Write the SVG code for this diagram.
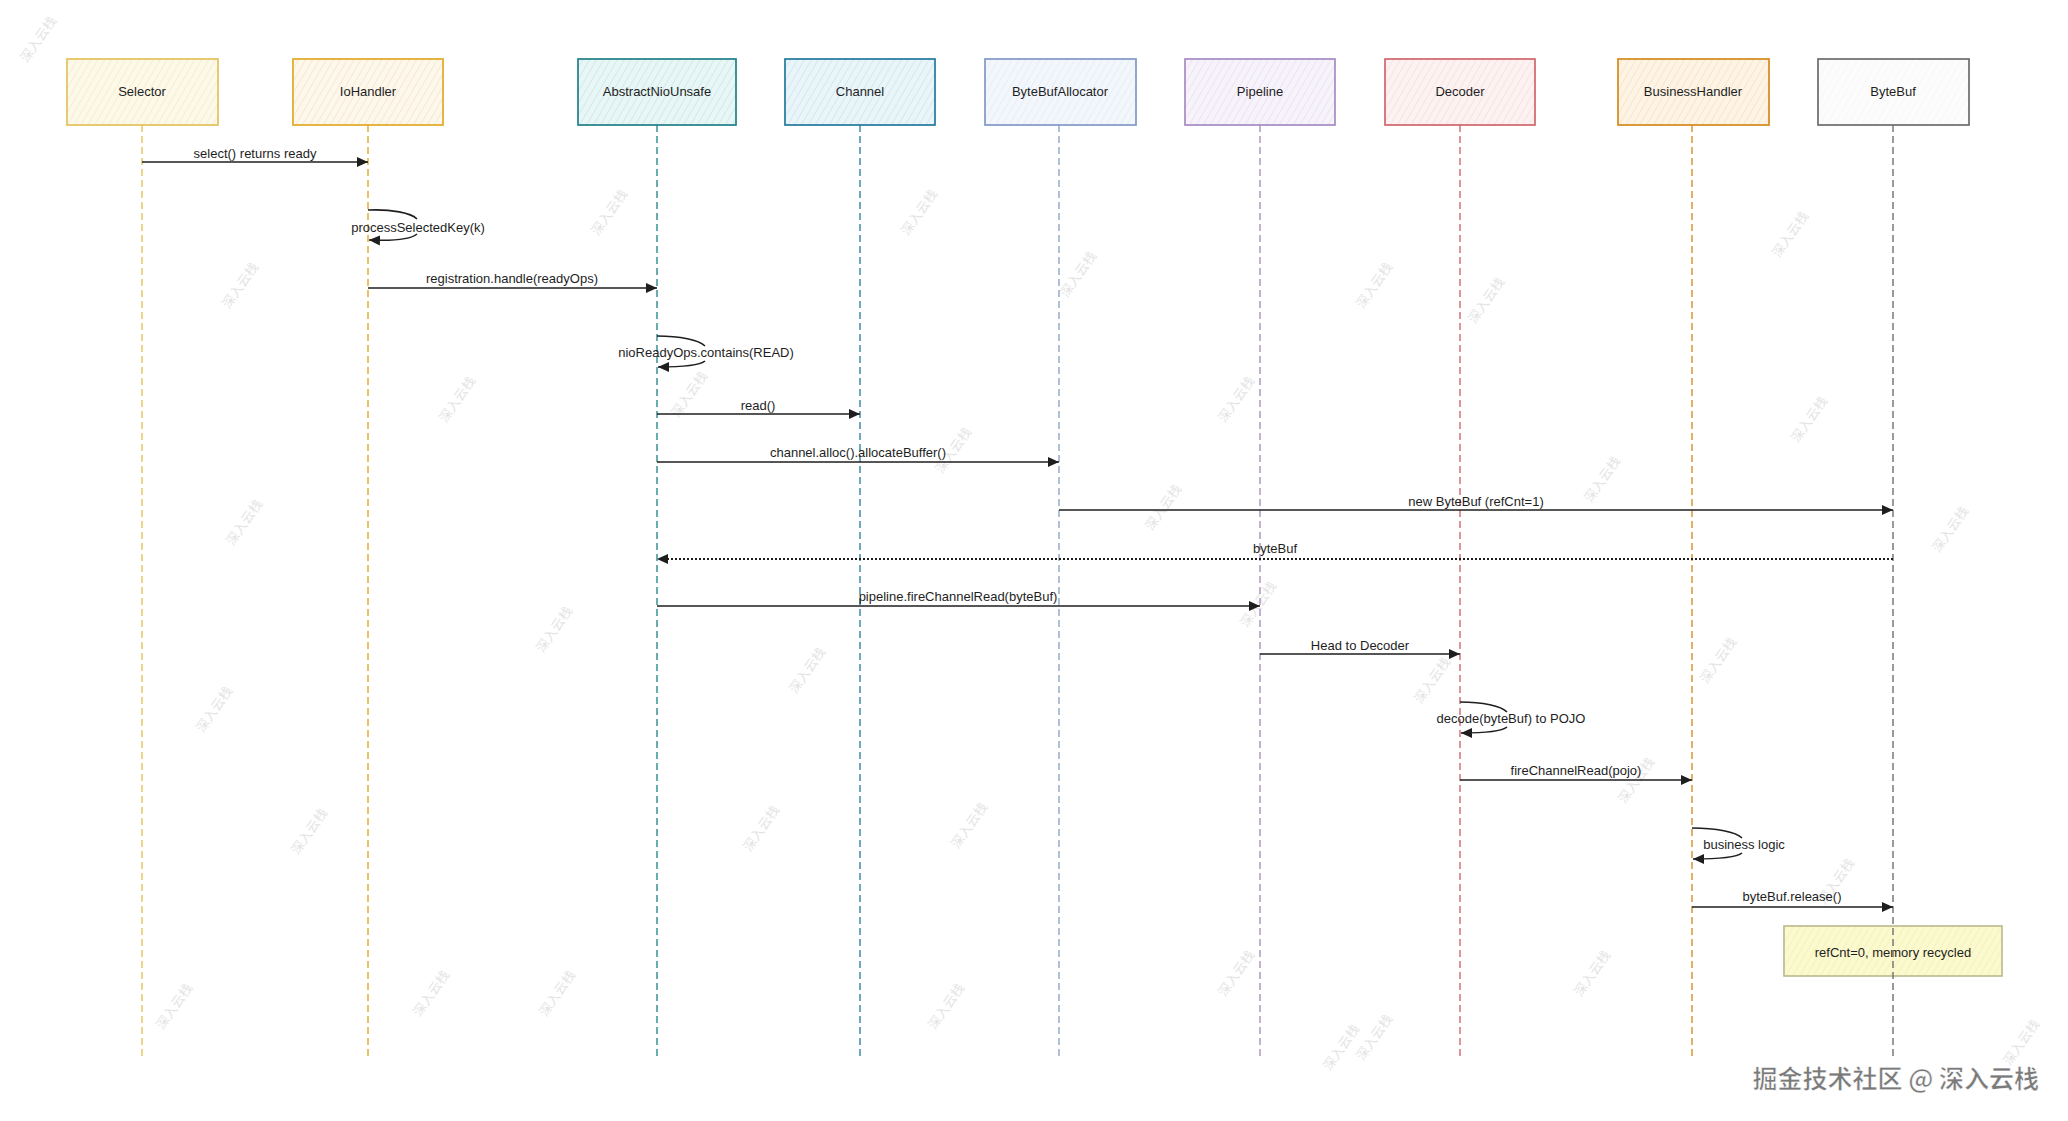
<svg xmlns="http://www.w3.org/2000/svg" width="2068" height="1121" viewBox="0 0 2068 1121">
<style>
.lbl{font-family:"Liberation Sans","DejaVu Sans",sans-serif;font-size:13px;fill:#1e1e1e;text-anchor:middle}
.box{stroke-width:1.7}
.life{fill:none;stroke-width:1.4;stroke-dasharray:7 4}
.msg{fill:none;stroke:#1e1e1e;stroke-width:1.6}
.ret{fill:none;stroke:#1e1e1e;stroke-width:1.8;stroke-dasharray:2 2}
.wm{font-family:"Noto Sans CJK SC",sans-serif;font-size:13px;fill:#e4e4e4}
.brand{font-family:"Noto Sans CJK SC",sans-serif;font-size:25px;font-weight:bold;fill:#7a7a7a;stroke:#ffffff;stroke-width:0.6;text-anchor:end}
</style>
<defs>
<marker id="ah" viewBox="0 0 10 10" refX="10" refY="5" markerWidth="11" markerHeight="11" markerUnits="userSpaceOnUse" orient="auto"><path d="M0,0.5 L10,5 L0,9.5 Z" fill="#1e1e1e"/></marker>
<pattern id="p-sel" width="6" height="6" patternUnits="userSpaceOnUse" patternTransform="rotate(30)"><rect width="6" height="6" fill="#fdf9ea"/><line x1="0" y1="0" x2="0" y2="6" stroke="#f1e3b4" stroke-width="1"/></pattern>
<pattern id="p-io" width="6" height="6" patternUnits="userSpaceOnUse" patternTransform="rotate(30)"><rect width="6" height="6" fill="#fdf7ec"/><line x1="0" y1="0" x2="0" y2="6" stroke="#f0dcb8" stroke-width="1"/></pattern>
<pattern id="p-ans" width="6" height="6" patternUnits="userSpaceOnUse" patternTransform="rotate(30)"><rect width="6" height="6" fill="#e9f6f6"/><line x1="0" y1="0" x2="0" y2="6" stroke="#b8dfe0" stroke-width="1"/></pattern>
<pattern id="p-ch" width="6" height="6" patternUnits="userSpaceOnUse" patternTransform="rotate(30)"><rect width="6" height="6" fill="#eaf5f9"/><line x1="0" y1="0" x2="0" y2="6" stroke="#bcdce8" stroke-width="1"/></pattern>
<pattern id="p-alloc" width="6" height="6" patternUnits="userSpaceOnUse" patternTransform="rotate(30)"><rect width="6" height="6" fill="#f3f7fc"/><line x1="0" y1="0" x2="0" y2="6" stroke="#dbe6f3" stroke-width="1"/></pattern>
<pattern id="p-pipe" width="6" height="6" patternUnits="userSpaceOnUse" patternTransform="rotate(30)"><rect width="6" height="6" fill="#f7f3fa"/><line x1="0" y1="0" x2="0" y2="6" stroke="#e2d6ec" stroke-width="1"/></pattern>
<pattern id="p-dec" width="6" height="6" patternUnits="userSpaceOnUse" patternTransform="rotate(30)"><rect width="6" height="6" fill="#fdf2f2"/><line x1="0" y1="0" x2="0" y2="6" stroke="#f3d3d3" stroke-width="1"/></pattern>
<pattern id="p-bh" width="6" height="6" patternUnits="userSpaceOnUse" patternTransform="rotate(30)"><rect width="6" height="6" fill="#fdf4e6"/><line x1="0" y1="0" x2="0" y2="6" stroke="#f3d8ad" stroke-width="1"/></pattern>
<pattern id="p-bb" width="6" height="6" patternUnits="userSpaceOnUse" patternTransform="rotate(30)"><rect width="6" height="6" fill="#fcfcfc"/><line x1="0" y1="0" x2="0" y2="6" stroke="#f2f2f2" stroke-width="1"/></pattern>
<pattern id="p-note" width="6" height="6" patternUnits="userSpaceOnUse" patternTransform="rotate(30)"><rect width="6" height="6" fill="#fbf9cf"/><line x1="0" y1="0" x2="0" y2="6" stroke="#f1ec9c" stroke-width="1"/></pattern>
</defs>
<rect width="2068" height="1121" fill="#ffffff"/>

<g id="watermarks">
<text class="wm" transform="translate(42,42) rotate(-55)" text-anchor="middle">深入云栈</text>
<text class="wm" transform="translate(244,288) rotate(-55)" text-anchor="middle">深入云栈</text>
<text class="wm" transform="translate(248,525) rotate(-55)" text-anchor="middle">深入云栈</text>
<text class="wm" transform="translate(218,712) rotate(-55)" text-anchor="middle">深入云栈</text>
<text class="wm" transform="translate(178,1009) rotate(-55)" text-anchor="middle">深入云栈</text>
<text class="wm" transform="translate(313,834) rotate(-55)" text-anchor="middle">深入云栈</text>
<text class="wm" transform="translate(435,996) rotate(-55)" text-anchor="middle">深入云栈</text>
<text class="wm" transform="translate(461,402) rotate(-55)" text-anchor="middle">深入云栈</text>
<text class="wm" transform="translate(558,632) rotate(-55)" text-anchor="middle">深入云栈</text>
<text class="wm" transform="translate(561,996) rotate(-55)" text-anchor="middle">深入云栈</text>
<text class="wm" transform="translate(613,215) rotate(-55)" text-anchor="middle">深入云栈</text>
<text class="wm" transform="translate(693,397) rotate(-55)" text-anchor="middle">深入云栈</text>
<text class="wm" transform="translate(765,831) rotate(-55)" text-anchor="middle">深入云栈</text>
<text class="wm" transform="translate(811,673) rotate(-55)" text-anchor="middle">深入云栈</text>
<text class="wm" transform="translate(923,215) rotate(-55)" text-anchor="middle">深入云栈</text>
<text class="wm" transform="translate(957,453) rotate(-55)" text-anchor="middle">深入云栈</text>
<text class="wm" transform="translate(950,1009) rotate(-55)" text-anchor="middle">深入云栈</text>
<text class="wm" transform="translate(973,828) rotate(-55)" text-anchor="middle">深入云栈</text>
<text class="wm" transform="translate(1082,277) rotate(-55)" text-anchor="middle">深入云栈</text>
<text class="wm" transform="translate(1167,510) rotate(-55)" text-anchor="middle">深入云栈</text>
<text class="wm" transform="translate(1240,402) rotate(-55)" text-anchor="middle">深入云栈</text>
<text class="wm" transform="translate(1262,607) rotate(-55)" text-anchor="middle">深入云栈</text>
<text class="wm" transform="translate(1240,976) rotate(-55)" text-anchor="middle">深入云栈</text>
<text class="wm" transform="translate(1378,288) rotate(-55)" text-anchor="middle">深入云栈</text>
<text class="wm" transform="translate(1436,683) rotate(-55)" text-anchor="middle">深入云栈</text>
<text class="wm" transform="translate(1490,303) rotate(-55)" text-anchor="middle">深入云栈</text>
<text class="wm" transform="translate(1606,482) rotate(-55)" text-anchor="middle">深入云栈</text>
<text class="wm" transform="translate(1596,976) rotate(-55)" text-anchor="middle">深入云栈</text>
<text class="wm" transform="translate(1640,783) rotate(-55)" text-anchor="middle">深入云栈</text>
<text class="wm" transform="translate(1722,663) rotate(-55)" text-anchor="middle">深入云栈</text>
<text class="wm" transform="translate(1794,237) rotate(-55)" text-anchor="middle">深入云栈</text>
<text class="wm" transform="translate(1813,422) rotate(-55)" text-anchor="middle">深入云栈</text>
<text class="wm" transform="translate(1840,884) rotate(-55)" text-anchor="middle">深入云栈</text>
<text class="wm" transform="translate(1954,532) rotate(-55)" text-anchor="middle">深入云栈</text>
<text class="wm" transform="translate(1345,1050) rotate(-55)" text-anchor="middle">深入云栈</text>
<text class="wm" transform="translate(1378,1040) rotate(-55)" text-anchor="middle">深入云栈</text>
<text class="wm" transform="translate(2025,1045) rotate(-55)" text-anchor="middle">深入云栈</text>
</g>

<g id="note-refcnt">
<rect x="1784" y="926" width="218" height="50" fill="url(#p-note)" stroke="#b9b98a" stroke-width="1.6"/>
<text class="lbl" x="1893" y="957">refCnt=0, memory recycled</text>
</g>

<g id="lifelines">
<line class="life" x1="142" y1="125" x2="142" y2="1060" stroke="#e3c25a"/>
<line class="life" x1="368" y1="125" x2="368" y2="1060" stroke="#e2a822"/>
<line class="life" x1="657" y1="125" x2="657" y2="1060" stroke="#2a8a8e"/>
<line class="life" x1="860" y1="125" x2="860" y2="1060" stroke="#2f86a8"/>
<line class="life" x1="1059" y1="125" x2="1059" y2="1060" stroke="#8fa6cc"/>
<line class="life" x1="1260" y1="125" x2="1260" y2="1060" stroke="#a992bf"/>
<line class="life" x1="1460" y1="125" x2="1460" y2="1060" stroke="#cf6a6e"/>
<line class="life" x1="1692" y1="125" x2="1692" y2="1060" stroke="#d4902a"/>
<line class="life" x1="1893" y1="125" x2="1893" y2="1060" stroke="#707070"/>
</g>

<g id="node-selector">
<rect class="box" x="67" y="59" width="151" height="66" fill="url(#p-sel)" stroke="#e3c25a"/>
<text class="lbl" x="142" y="96">Selector</text>
</g>
<g id="node-iohandler">
<rect class="box" x="293" y="59" width="150" height="66" fill="url(#p-io)" stroke="#e2a822"/>
<text class="lbl" x="368" y="96">IoHandler</text>
</g>
<g id="node-abstractniounsafe">
<rect class="box" x="578" y="59" width="158" height="66" fill="url(#p-ans)" stroke="#1f7f86"/>
<text class="lbl" x="657" y="96">AbstractNioUnsafe</text>
</g>
<g id="node-channel">
<rect class="box" x="785" y="59" width="150" height="66" fill="url(#p-ch)" stroke="#23789c"/>
<text class="lbl" x="860" y="96">Channel</text>
</g>
<g id="node-bytebufallocator">
<rect class="box" x="985" y="59" width="151" height="66" fill="url(#p-alloc)" stroke="#7f99c6"/>
<text class="lbl" x="1060" y="96">ByteBufAllocator</text>
</g>
<g id="node-pipeline">
<rect class="box" x="1185" y="59" width="150" height="66" fill="url(#p-pipe)" stroke="#a68bc2"/>
<text class="lbl" x="1260" y="96">Pipeline</text>
</g>
<g id="node-decoder">
<rect class="box" x="1385" y="59" width="150" height="66" fill="url(#p-dec)" stroke="#d0666a"/>
<text class="lbl" x="1460" y="96">Decoder</text>
</g>
<g id="node-businesshandler">
<rect class="box" x="1618" y="59" width="151" height="66" fill="url(#p-bh)" stroke="#d4891a"/>
<text class="lbl" x="1693" y="96">BusinessHandler</text>
</g>
<g id="node-bytebuf">
<rect class="box" x="1818" y="59" width="151" height="66" fill="url(#p-bb)" stroke="#6b6b6b"/>
<text class="lbl" x="1893" y="96">ByteBuf</text>
</g>

<g id="connectors">
<path class="msg" d="M142,162 H368" marker-end="url(#ah)"/>
<text class="lbl" x="255" y="158">select() returns ready</text>

<path class="msg" d="M368,210 C392,209 411,213 417,219"/>
<path class="msg" d="M417,234 C410,240 392,241 369,240" marker-end="url(#ah)"/>
<text class="lbl" x="418" y="232">processSelectedKey(k)</text>

<path class="msg" d="M368,288 H657" marker-end="url(#ah)"/>
<text class="lbl" x="512" y="283">registration.handle(readyOps)</text>

<path class="msg" d="M657,336 C680,336 699,340 705,346"/>
<path class="msg" d="M705,361 C699,366 681,367 658,367" marker-end="url(#ah)"/>
<text class="lbl" x="706" y="357">nioReadyOps.contains(READ)</text>

<path class="msg" d="M657,414 H860" marker-end="url(#ah)"/>
<text class="lbl" x="758" y="410">read()</text>

<path class="msg" d="M657,462 H1059" marker-end="url(#ah)"/>
<text class="lbl" x="858" y="457">channel.alloc().allocateBuffer()</text>

<path class="msg" d="M1059,510 H1893" marker-end="url(#ah)"/>
<text class="lbl" x="1476" y="506">new ByteBuf (refCnt=1)</text>

<path class="ret" d="M1893,559 H657" marker-end="url(#ah)"/>
<text class="lbl" x="1275" y="553">byteBuf</text>

<path class="msg" d="M657,606 H1260" marker-end="url(#ah)"/>
<text class="lbl" x="958" y="601">pipeline.fireChannelRead(byteBuf)</text>

<path class="msg" d="M1260,654 H1460" marker-end="url(#ah)"/>
<text class="lbl" x="1360" y="650">Head to Decoder</text>

<path class="msg" d="M1460,702 C1483,702 1501,706 1507,712"/>
<path class="msg" d="M1507,727 C1501,732 1483,733 1461,733" marker-end="url(#ah)"/>
<text class="lbl" x="1511" y="723">decode(byteBuf) to POJO</text>

<path class="msg" d="M1460,780 H1692" marker-end="url(#ah)"/>
<text class="lbl" x="1576" y="775">fireChannelRead(pojo)</text>

<path class="msg" d="M1692,828 C1716,828 1736,832 1742,838"/>
<path class="msg" d="M1742,853 C1736,858 1716,859 1693,859" marker-end="url(#ah)"/>
<text class="lbl" x="1744" y="849">business logic</text>

<path class="msg" d="M1692,907 H1893" marker-end="url(#ah)"/>
<text class="lbl" x="1792" y="901">byteBuf.release()</text>
</g>

<text class="brand" x="2039" y="1088">掘金技术社区 @ 深入云栈</text>
</svg>
